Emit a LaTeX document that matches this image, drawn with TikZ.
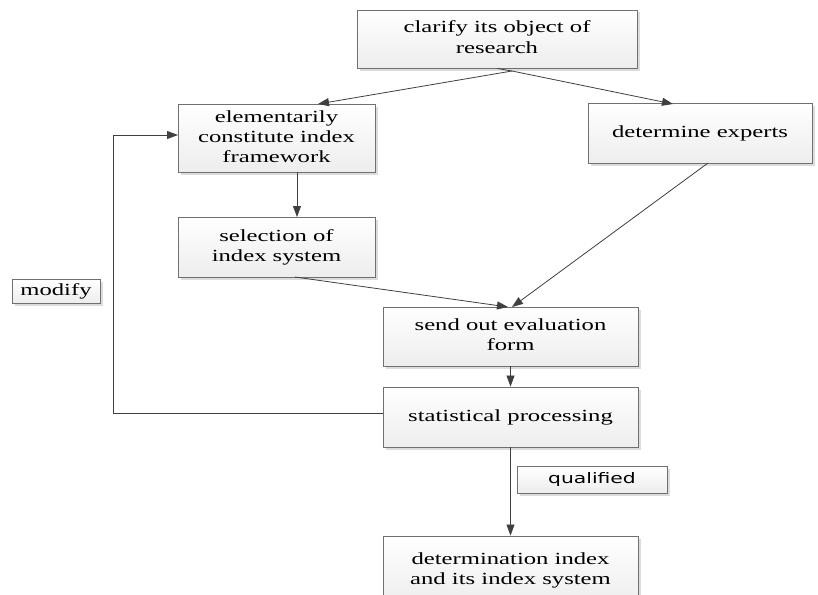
\documentclass[tikz,border=0pt]{standalone}
\usepackage{fontspec}
\usepackage{graphicx}
\setmainfont{Liberation Serif}
\newfontfamily\qfont{DejaVu Sans}
\usetikzlibrary{arrows.meta,shadows}
\definecolor{boxline}{RGB}{112,112,112}
\definecolor{lineclr}{RGB}{64,64,64}
\newcommand{\wtxt}[1]{\scalebox{1.45}[1]{\begin{tabular}{@{}c@{}}#1\end{tabular}}}
\newcommand{\qtxt}[1]{\scalebox{1.4}[1]{#1}}
\begin{document}
\begin{tikzpicture}[x=1pt,y=-1pt,
  box/.style={draw=boxline, line width=0.9pt, top color=white, bottom color=gray!14,
    drop shadow={shadow xshift=2.5pt, shadow yshift=-2.5pt, fill=gray!45, opacity=0.6},
    align=center, inner sep=0pt, font=\fontsize{17}{20}\selectfont},
  conn/.style={draw=lineclr, line width=0.8pt},
  arr/.style={conn, -{Triangle[length=11pt,width=8pt]}},
]
\useasboundingbox (0,0) rectangle (818,594);
\fill[white] (0,0) rectangle (818,594);
\clip (0,0) rectangle (818,594);

\node[box, minimum width=280pt, minimum height=58pt] (top) at (497,39) {\wtxt{clarify its object of\\research}};
\node[box, minimum width=197pt, minimum height=68pt] (elem) at (276.5,138) {\wtxt{elementarily\\constitute index\\framework}};
\node[box, minimum width=224pt, minimum height=60pt] (exp) at (700,133.5) {\wtxt{determine experts}};
\node[box, minimum width=197pt, minimum height=60pt] (sel) at (276.5,247) {\wtxt{selection of\\index system}};
\node[box, minimum width=255pt, minimum height=59pt] (send) at (510.5,336.5) {\wtxt{send out evaluation\\form}};
\node[box, minimum width=255pt, minimum height=60pt] (stat) at (510.5,417) {\wtxt{statistical processing}};
\node[box, minimum width=255pt, minimum height=68pt] (detm) at (510.5,570) {\wtxt{determination index\\and its index system}};
\node[box, minimum width=88pt, minimum height=24pt] (modify) at (56,291) {\wtxt{modify}};
\node[box, minimum width=150pt, minimum height=27pt, font=\qfont\fontsize{14.5}{17}\selectfont] (qual) at (592,479.5) {\qtxt{qualified}};

\coordinate (apex) at (512,71);
\coordinate (elemin) at (318,104);
\coordinate (expin) at (673,104);
\coordinate (elemout) at (297,172);
\coordinate (selin) at (297,217);
\coordinate (selout) at (295,277);
\coordinate (sendinA) at (508,307);
\coordinate (expout) at (708,163);
\coordinate (sendinB) at (512,307);
\coordinate (fbA) at (113,413);
\coordinate (fbB) at (113,135);
\coordinate (elemleft) at (178,135);

\draw[conn] (top.south) -- (apex);
\draw[arr] (apex) -- (elemin);
\draw[arr] (apex) -- (expin);
\draw[arr] (elemout) -- (selin);
\draw[arr] (selout) -- (sendinA);
\draw[arr] (expout) -- (sendinB);
\draw[arr] (send.south) -- (stat.north);
\draw[arr] (stat.south) -- (detm.north);
\draw[conn] (stat.west |- fbA) -- (fbA) -- (fbB);
\draw[arr] (fbB) -- (elemleft);
\end{tikzpicture}
\end{document}
